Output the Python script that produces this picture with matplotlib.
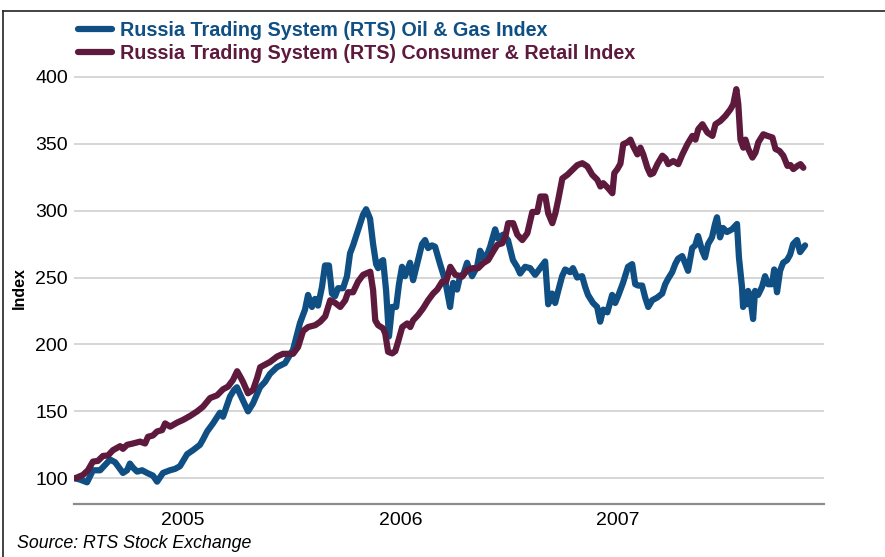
import matplotlib
matplotlib.use('Agg')
import matplotlib.pyplot as plt
from matplotlib.lines import Line2D

plt.rcParams['font.family'] = ['Liberation Sans', 'DejaVu Sans']

# Oil & Gas index (rebased to 100), x = decimal year
oil_year = [2005.005, 2005.028, 2005.060, 2005.087, 2005.120, 2005.143, 2005.166, 2005.189, 2005.225, 2005.244,
            2005.257, 2005.271, 2005.290, 2005.313, 2005.336, 2005.363, 2005.382, 2005.409, 2005.441, 2005.464,
            2005.487, 2005.520, 2005.547, 2005.579, 2005.593, 2005.612, 2005.639, 2005.671, 2005.685, 2005.717,
            2005.736, 2005.749, 2005.763, 2005.786, 2005.800, 2005.823, 2005.855, 2005.878, 2005.901, 2005.933,
            2005.970, 2006.007, 2006.039, 2006.062, 2006.076, 2006.094, 2006.108, 2006.122, 2006.140, 2006.154,
            2006.172, 2006.186, 2006.200, 2006.214, 2006.237, 2006.255, 2006.269, 2006.283, 2006.301, 2006.315,
            2006.329, 2006.343, 2006.361, 2006.375, 2006.389, 2006.398, 2006.412, 2006.421, 2006.435, 2006.448,
            2006.462, 2006.481, 2006.494, 2006.508, 2006.522, 2006.545, 2006.559, 2006.582, 2006.600, 2006.614,
            2006.628, 2006.646, 2006.660, 2006.674, 2006.683, 2006.706, 2006.729, 2006.743, 2006.761, 2006.775,
            2006.789, 2006.807, 2006.830, 2006.853, 2006.867, 2006.890, 2006.913, 2006.936, 2006.949, 2006.972,
            2006.995, 2007.018, 2007.037, 2007.051, 2007.074, 2007.097, 2007.120, 2007.143, 2007.166, 2007.180,
            2007.198, 2007.212, 2007.226, 2007.244, 2007.258, 2007.281, 2007.294, 2007.313, 2007.336, 2007.350,
            2007.363, 2007.386, 2007.405, 2007.419, 2007.433, 2007.452, 2007.474, 2007.488, 2007.501, 2007.524,
            2007.547, 2007.566, 2007.580, 2007.593, 2007.612, 2007.626, 2007.640, 2007.658, 2007.681, 2007.704,
            2007.718, 2007.731, 2007.750, 2007.764, 2007.777, 2007.796, 2007.809, 2007.823, 2007.842, 2007.856,
            2007.869, 2007.888, 2007.901, 2007.915, 2007.933, 2007.947, 2007.956, 2007.970, 2007.984, 2008.002,
            2008.025, 2008.048, 2008.057, 2008.071, 2008.076, 2008.085, 2008.094, 2008.099, 2008.108, 2008.122,
            2008.131, 2008.145, 2008.163, 2008.177, 2008.191, 2008.209, 2008.219, 2008.232, 2008.246, 2008.260,
            2008.278, 2008.292, 2008.306, 2008.324, 2008.338, 2008.352, 2008.361]
oil_index = [100, 99, 97, 106, 106, 110, 114, 112, 104, 106,
             111, 108, 105, 106, 104, 102, 97.5, 104, 106, 107,
             109, 118, 121, 125, 129, 135, 141, 149, 146, 161,
             166, 168, 163, 155, 150, 156, 168, 172, 178, 183,
             186, 196, 216, 226, 237, 228, 234, 229, 243, 259,
             259, 238, 236, 242, 242, 251, 268, 274, 283, 290,
             297, 301, 294, 275, 260, 257, 262, 263, 240, 206,
             228, 228, 245, 258, 251, 261, 248, 263, 275, 278,
             272, 274, 273, 265, 260, 248, 228, 246, 241, 251,
             252, 261, 251, 258, 270, 263, 273, 286, 279, 282,
             278, 263, 258, 253, 258, 257, 252, 257, 262, 230,
             238, 231, 240, 251, 256, 254, 257, 250, 251, 243,
             237, 231, 228, 217, 226, 224, 237, 231, 236, 246,
             258, 260, 245, 244, 244, 235, 228, 233, 235, 238,
             245, 249, 254, 260, 264, 266, 261, 255, 272, 274,
             281, 270, 265, 275, 280, 290, 295, 280, 287, 284,
             286, 290, 265, 243, 228, 238, 230, 240, 236, 219,
             240, 237, 243, 251, 245, 245, 256, 239, 255, 261,
             263, 267, 275, 278, 269, 272, 274]

# Consumer & Retail index (rebased to 100)
retail_year = [2005.005, 2005.041, 2005.064, 2005.087, 2005.110, 2005.133, 2005.156, 2005.179, 2005.212, 2005.225,
               2005.244, 2005.271, 2005.304, 2005.327, 2005.340, 2005.363, 2005.382, 2005.405, 2005.419, 2005.442,
               2005.474, 2005.501, 2005.534, 2005.566, 2005.593, 2005.626, 2005.658, 2005.685, 2005.708, 2005.731,
               2005.750, 2005.764, 2005.777, 2005.800, 2005.823, 2005.842, 2005.856, 2005.902, 2005.934, 2005.961,
               2006.007, 2006.030, 2006.053, 2006.076, 2006.109, 2006.132, 2006.155, 2006.178, 2006.201, 2006.224,
               2006.247, 2006.260, 2006.283, 2006.306, 2006.329, 2006.362, 2006.375, 2006.385, 2006.398, 2006.421,
               2006.431, 2006.444, 2006.463, 2006.477, 2006.490, 2006.509, 2006.532, 2006.546, 2006.559, 2006.582,
               2006.605, 2006.628, 2006.651, 2006.670, 2006.693, 2006.711, 2006.730, 2006.753, 2006.785, 2006.808,
               2006.835, 2006.858, 2006.881, 2006.904, 2006.927, 2006.946, 2006.969, 2006.983, 2006.996, 2007.019,
               2007.038, 2007.061, 2007.084, 2007.107, 2007.130, 2007.144, 2007.167, 2007.180, 2007.199, 2007.213,
               2007.226, 2007.245, 2007.268, 2007.291, 2007.314, 2007.337, 2007.360, 2007.383, 2007.406, 2007.420,
               2007.433, 2007.456, 2007.475, 2007.484, 2007.498, 2007.512, 2007.525, 2007.544, 2007.558, 2007.571,
               2007.590, 2007.604, 2007.617, 2007.636, 2007.650, 2007.663, 2007.682, 2007.705, 2007.719, 2007.732,
               2007.755, 2007.778, 2007.797, 2007.820, 2007.843, 2007.857, 2007.870, 2007.889, 2007.912, 2007.935,
               2007.949, 2007.972, 2007.995, 2008.018, 2008.031, 2008.045, 2008.054, 2008.064, 2008.077, 2008.087,
               2008.100, 2008.119, 2008.133, 2008.146, 2008.169, 2008.188, 2008.211, 2008.225, 2008.243, 2008.261,
               2008.280, 2008.294, 2008.307, 2008.326, 2008.340, 2008.353]
retail_index = [100, 102.5, 106, 112.5, 113, 116.7, 117, 121, 124, 122,
                125, 126, 127.4, 126, 131, 132, 135, 136, 141, 138.6,
                141.6, 143.6, 146.6, 150, 153.5, 160, 162, 166.5, 168.5, 173.5,
                180, 176, 172, 163.5, 166, 175, 183, 187, 191, 193,
                193, 198, 210, 213, 214.4, 217, 221, 233, 231, 228,
                233, 239, 239, 247, 252, 254.3, 240.6, 218, 214.4, 212,
                208, 194.5, 193.3, 195, 202, 213, 215.7, 213, 218, 222,
                227, 233, 238, 241, 247, 247, 258, 252, 250.7, 255.7,
                257, 257, 260.7, 263, 269.4, 274.4, 275.6, 280.6, 290.6, 290.6,
                282, 278, 283, 299, 299, 310.5, 310.5, 298, 290.6, 298,
                308, 324, 326.7, 330.4, 334, 335.4, 333, 326.7, 323, 318,
                320.5, 316.7, 313, 328, 331, 335, 349.6, 351, 353, 348,
                342, 347, 342, 332, 327, 328, 334.7, 341, 339, 334.7,
                337, 334.7, 342, 349.6, 355.8, 353, 360.8, 364.5, 358.3, 355.8,
                364.5, 367, 370.8, 375.7, 379.5, 390.7, 379.5, 353, 347, 353,
                346, 339.6, 343.4, 351, 357, 355.8, 354.6, 346, 344.6, 341,
                333.4, 334, 331, 333.4, 334.7, 332]

year_labels = ['2005', '2006', '2007']
year_label_pos = [2005.5, 2006.5, 2007.5]
y_ticks = [100, 150, 200, 250, 300, 350, 400]

BLUE = '#0F4F84'
MAROON = '#5E1A3D'

fig = plt.figure(figsize=(8.85, 5.57), dpi=100)
ax = fig.add_axes([74 / 885, 53 / 557, 750 / 885, 444 / 557])

ax.plot(oil_year, oil_index, color=BLUE, lw=4.5, solid_joinstyle='round', solid_capstyle='round',
        label='Russia Trading System (RTS) Oil & Gas Index')
ax.plot(retail_year, retail_index, color=MAROON, lw=4.5, solid_joinstyle='round', solid_capstyle='round',
        label='Russia Trading System (RTS) Consumer & Retail Index')

ax.set_xlim(2005.0, 2008.448)
ax.set_ylim(80.8, 412.5)
ax.set_yticks(y_ticks)
ax.set_xticks(year_label_pos, year_labels)
ax.tick_params(length=0, labelsize=14)
ax.tick_params(axis='x', pad=6)
ax.tick_params(axis='y', pad=4.3)
ax.grid(axis='y', color='#cccccc', lw=1.1)
ax.set_axisbelow(True)
for s in ['top', 'right', 'left']:
    ax.spines[s].set_visible(False)
ax.spines['bottom'].set_color('#8c8c8c')
ax.spines['bottom'].set_linewidth(1.6)

ax.set_ylabel('Index', fontsize=11.5, fontweight='bold')
ax.yaxis.set_label_coords(-0.0627, 0.486)

fig.legend(loc='upper left', bbox_to_anchor=(78 / 885, 1 - 21 / 557), frameon=False,
           borderpad=0, borderaxespad=0, handlelength=1.7, handletextpad=0.45,
           labelspacing=0.2, prop={'weight': 'bold', 'size': 14.2}, labelcolor='linecolor')

fig.text(17 / 885, 1 - 543 / 557, 'Source: RTS Stock Exchange', fontsize=12.8, style='italic', va='center')

# frame lines (top and left)
fig.add_artist(Line2D([3 / 885, 1], [1 - 11 / 557, 1 - 11 / 557], color='#222222', lw=1.2))
fig.add_artist(Line2D([3 / 885, 3 / 885], [0, 1 - 11 / 557], color='#222222', lw=1.2))

fig.savefig('out.png', dpi=100)
